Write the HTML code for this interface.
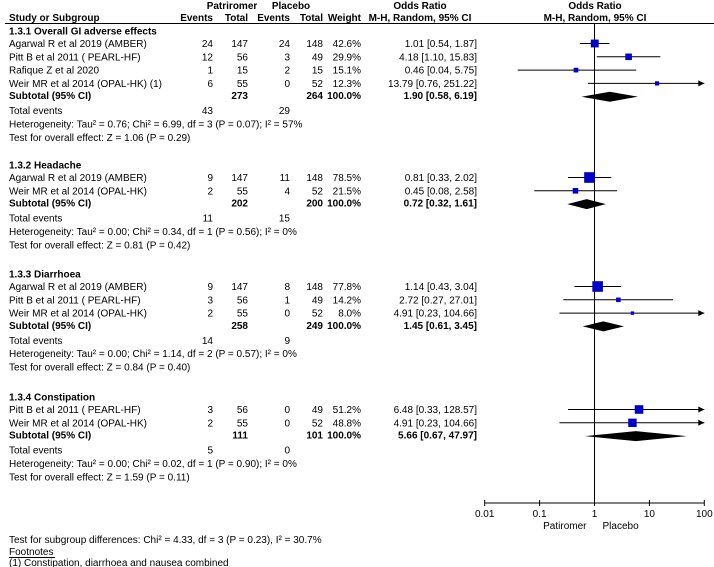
<!DOCTYPE html>
<html><head><meta charset="utf-8"><style>
html,body{margin:0;padding:0;background:#fff}
svg{display:block;font-family:"Liberation Sans",Arial,sans-serif;font-size:10px;fill:#000}
.b{font-weight:bold}
</style></head><body>
<svg id="c" width="714" height="567" viewBox="0 0 714 567"></svg>
<script>
const studies=["Agarwal R et al 2019 (AMBER)","Pitt B et al 2011 ( PEARL-HF)","Rafique Z et al 2020","Weir MR et al 2014 (OPAL-HK) (1)","Agarwal R et al 2019 (AMBER)","Weir MR et al 2014 (OPAL-HK)","Agarwal R et al 2019 (AMBER)","Pitt B et al 2011 ( PEARL-HF)","Weir MR et al 2014 (OPAL-HK)","Pitt B et al 2011 ( PEARL-HF)","Weir MR et al 2014 (OPAL-HK)"];
const studyGroup=[0,0,0,0,1,1,2,2,2,3,3];
const pEvents=[24,12,1,6,9,2,9,3,2,3,2];
const pTotal=[147,56,15,55,147,55,147,56,55,56,55];
const cEvents=[24,3,2,0,11,4,8,1,0,0,0];
const cTotal=[148,49,15,52,148,52,148,49,52,49,52];
const weights=[42.6,29.9,15.1,12.3,78.5,21.5,77.8,14.2,8.0,51.2,48.8];
const orVal=[1.01,4.18,0.46,13.79,0.81,0.45,1.14,2.72,4.91,6.48,4.91];
const orLo=[0.54,1.10,0.04,0.76,0.33,0.08,0.43,0.27,0.23,0.33,0.23];
const orHi=[1.87,15.83,5.75,251.22,2.02,2.58,3.04,27.01,104.66,128.57,104.66];
const groupNames=["1.3.1 Overall GI adverse effects","1.3.2 Headache","1.3.3 Diarrhoea","1.3.4 Constipation"];
const subP=[273,202,258,111];
const subC=[264,200,249,101];
const subOR=[1.90,0.72,1.45,5.66];
const subLo=[0.58,0.32,0.61,0.67];
const subHi=[6.19,1.61,3.45,47.97];
const totP=[43,11,14,5];
const totC=[29,15,9,0];
const hetText=["Heterogeneity: Tau² = 0.76; Chi² = 6.99, df = 3 (P = 0.07); I² = 57%","Heterogeneity: Tau² = 0.00; Chi² = 0.34, df = 1 (P = 0.56); I² = 0%","Heterogeneity: Tau² = 0.00; Chi² = 1.14, df = 2 (P = 0.57); I² = 0%","Heterogeneity: Tau² = 0.00; Chi² = 0.02, df = 1 (P = 0.90); I² = 0%"];
const effText=["Test for overall effect: Z = 1.06 (P = 0.29)","Test for overall effect: Z = 0.81 (P = 0.42)","Test for overall effect: Z = 0.84 (P = 0.40)","Test for overall effect: Z = 1.59 (P = 0.11)"];
const ticks=[0.01,0.1,1,10,100];
const tickLabels=["0.01","0.1","1","10","100"];

const NS="http://www.w3.org/2000/svg";
const svg=document.getElementById('c');
const X0=484.7,X1=704.3;
function xs(v){return X0+(Math.log10(v)+2)/4*(X1-X0);}
function el(tag,at,txt){const e=document.createElementNS(NS,tag);for(const k in at)e.setAttribute(k,at[k]);if(txt!==undefined)e.textContent=txt;svg.appendChild(e);return e;}
function t(x,y,s,anchor,cls,name){const e=el('text',{x:x,y:y,'text-anchor':anchor||'start',class:cls||''},s);

return e;}
function ln(x1,y1,x2,y2,name){const e=el('line',{x1,y1,x2,y2,stroke:'#000','stroke-width':1});

return e;}
function fmt(v){return v.toFixed(2);}

t(232,9,"Patriromer","middle","b","header-patriromer");
t(291,9,"Placebo","middle","b","header-placebo");
t(420,9,"Odds Ratio","middle","b","header-odds-ratio");
t(595,9,"Odds Ratio","middle","b","header-odds-ratio-plot");
t(9,21,"Study or Subgroup","start","b","header-study");
t(213,21,"Events","end","b","header-events-p");
t(248,21,"Total","end","b","header-total-p");
t(290,21,"Events","end","b","header-events-c");
t(323,21,"Total","end","b","header-total-c");
t(361,21,"Weight","end","b","header-weight");
t(420,21,"M-H, Random, 95% CI","middle","b","header-method");
t(595,21,"M-H, Random, 95% CI","middle","b","header-method-plot");
ln(5,23.5,714,23.5,"header-rule");
ln(xs(1),23,xs(1),503,"null-line");

const gStart=[31,165,274,397];
function marker(y,v,lo,hi,w){
  const xl=Math.max(X0,xs(lo)), xh=Math.min(X1,xs(hi));
  ln(xl,y,xh,y,'ci-line');
  if(xs(hi)>X1){const a=el('polygon',{points:`${X1},${y} ${X1-6},${y-3} ${X1-6},${y+3}`,fill:'#000'});
    
    }
  const s=Math.max(3,Math.sqrt(w)*1.2);
  const r=el('rect',{x:xs(v)-s/2,y:y-s/2,width:s,height:s,fill:'#0000c8'});
  
  
}
for(let g=0;g<4;g++){
  let y=gStart[g];
  t(9,y+3.5,groupNames[g],"start","b","subgroup-title");
  y+=12.5;
  for(let i=0;i<studies.length;i++){ if(studyGroup[i]!==g)continue;
    t(9,y+3.5,studies[i],"start","","study-name");
    t(213,y+3.5,pEvents[i],"end","","events-p");
    t(248,y+3.5,pTotal[i],"end","","total-p");
    t(290,y+3.5,cEvents[i],"end","","events-c");
    t(323,y+3.5,cTotal[i],"end","","total-c");
    t(361,y+3.5,weights[i].toFixed(1)+"%","end","","weight");
    t(477,y+3.5,`${fmt(orVal[i])} [${fmt(orLo[i])}, ${fmt(orHi[i])}]`,"end","","or-ci");
    marker(y,orVal[i],orLo[i],orHi[i],weights[i]);
    y+=13.3;
  }
  t(9,y+2.5,"Subtotal (95% CI)","start","b","subtotal-label");
  t(248,y+2.5,subP[g],"end","b","subtotal-p");
  t(323,y+2.5,subC[g],"end","b","subtotal-c");
  t(361,y+2.5,"100.0%","end","b","subtotal-weight");
  t(477,y+2.5,`${fmt(subOR[g])} [${fmt(subLo[g])}, ${fmt(subHi[g])}]`,"end","b","subtotal-or");
  const d=el('polygon',{points:`${xs(subLo[g])},${y} ${xs(subOR[g])},${y-5} ${xs(subHi[g])},${y} ${xs(subOR[g])},${y+5}`,fill:'#000'});
  
  
  y+=14;
  t(9,y+3.5,"Total events","start","","total-events-label");
  t(213,y+3.5,totP[g],"end","","total-events-p");
  t(290,y+3.5,totC[g],"end","","total-events-c");
  y+=13.3;
  t(9,y+3.5,hetText[g],"start","","heterogeneity");
  y+=13.5;
  t(9,y+3.5,effText[g],"start","","overall-effect");
}
ln(X0,503,X1,503,"x-axis");
for(let i=0;i<ticks.length;i++){
  ln(xs(ticks[i]),500,xs(ticks[i]),506,"x-tick");
  t(xs(ticks[i]),517,tickLabels[i],"middle","","x-tick-label");
}
t(xs(1)-8,529,"Patiromer","end","","favours-left");
t(xs(1)+8,529,"Placebo","start","","favours-right");
t(9,543,"Test for subgroup differences: Chi² = 4.33, df = 3 (P = 0.23), I² = 30.7%","start","","subgroup-differences");
t(9,555,"Footnotes","start","","footnotes-title");
ln(9,557.5,55,557.5,"footnotes-underline");
t(9,566,"(1) Constipation, diarrhoea and nausea combined","start","","footnote-1");
</script>
</body></html>
